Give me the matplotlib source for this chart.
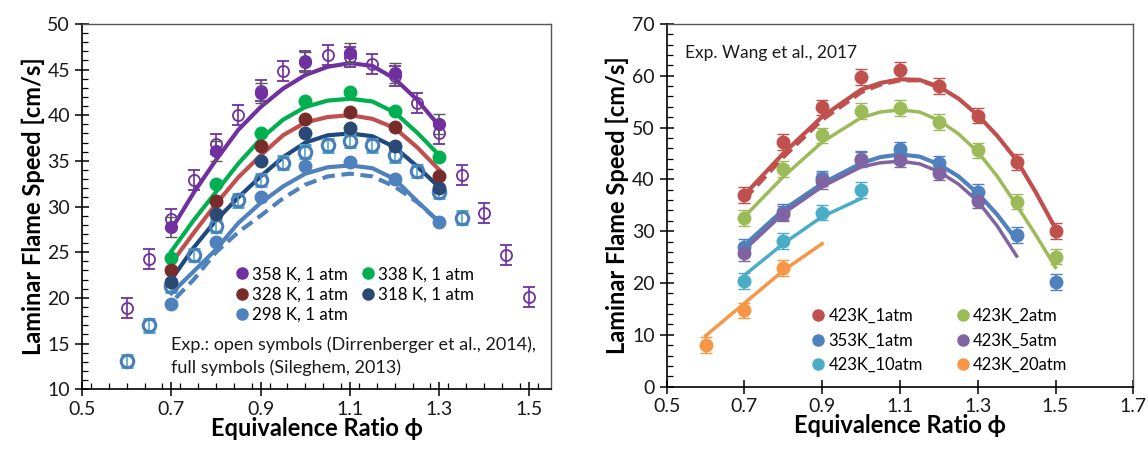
import numpy as np
import matplotlib
matplotlib.use("Agg")
import matplotlib.pyplot as plt
from matplotlib.lines import Line2D
from matplotlib.ticker import MultipleLocator

plt.rcParams['font.family'] = ['Lato', 'DejaVu Sans']

# ---------------- left panel data ----------------
# Dirrenberger et al. 2014 (open symbols)
phi_dir = [0.6, 0.65, 0.7, 0.75, 0.8, 0.85, 0.9, 0.95, 1.0, 1.05, 1.1,
           1.15, 1.2, 1.25, 1.3, 1.35, 1.4, 1.45, 1.5]
sl_dir_358 = [18.9, 24.3, 28.6, 32.9, 36.8, 40.0, 42.7, 44.8, 45.9, 46.6, 46.4,
              45.6, 44.3, 41.3, 38.0, 33.5, 29.3, 24.7, 20.1]
phi_dir298 = [0.6, 0.65, 0.7, 0.75, 0.8, 0.85, 0.9, 0.95, 1.0, 1.05, 1.1,
              1.15, 1.2, 1.25, 1.3, 1.35]
sl_dir_298 = [13.1, 17.0, 21.3, 24.7, 27.9, 30.7, 32.9, 34.8, 36.0, 36.7, 37.2,
              36.7, 35.6, 33.9, 31.6, 28.8]

# Sileghem 2013 (full symbols)
phi_sil = [0.7, 0.8, 0.9, 1.0, 1.1, 1.2, 1.3]
sl_sil = {
    '358 K, 1 atm': [27.8, 36.1, 42.4, 45.8, 46.8, 44.6, 39.0],
    '338 K, 1 atm': [24.4, 32.5, 38.0, 41.6, 42.5, 40.5, 35.4],
    '328 K, 1 atm': [23.0, 30.6, 36.6, 39.6, 40.3, 38.7, 33.3],
    '318 K, 1 atm': [21.7, 29.2, 35.0, 38.0, 38.6, 36.6, 32.0],
    '298 K, 1 atm': [19.3, 26.1, 31.1, 34.4, 34.9, 33.0, 28.3],
}

# model curves
phi_mod = [0.7, 0.75, 0.8, 0.85, 0.9, 0.95, 1.0, 1.05, 1.1, 1.15, 1.2, 1.25, 1.3]
mod_358 = [27.5, 31.5, 35.1, 38.4, 40.9, 42.9, 44.4, 45.3, 45.7, 45.4, 44.0, 41.7, 38.8]
mod_338 = [25.1, 28.5, 31.6, 34.7, 37.4, 39.5, 40.9, 41.6, 41.8, 41.5, 40.3, 38.1, 35.6]
mod_328 = [23.8, 27.1, 30.3, 33.2, 35.6, 37.8, 39.2, 39.8, 40.0, 39.6, 38.6, 36.5, 34.0]
mod_318 = [22.0, 25.5, 28.5, 31.0, 33.3, 35.4, 37.0, 37.8, 38.0, 37.7, 36.5, 34.4, 32.1]
mod_298 = [20.5, 22.9, 25.3, 28.2, 30.4, 32.2, 33.6, 34.3, 34.5, 34.2, 33.0, 30.6, 28.3]
phi_mod_d = [0.71, 0.75, 0.8, 0.85, 0.9, 0.95, 1.0, 1.05, 1.1, 1.15, 1.2, 1.25, 1.3]
mod_298_d = [20.0, 22.0, 25.0, 27.2, 29.0, 30.9, 32.4, 33.3, 33.6, 33.3, 32.2, 30.5, 28.3]

# ---------------- right panel data ----------------
phi_w = [0.7, 0.8, 0.9, 1.0, 1.1, 1.2, 1.3, 1.4, 1.5]
w_423_1 = [37.0, 47.2, 53.9, 59.7, 61.1, 58.0, 52.3, 43.3, 30.0]
w_423_2 = [32.5, 42.0, 48.5, 53.2, 53.8, 51.1, 45.6, 35.7, 25.1]
w_353_1 = [27.0, 33.7, 40.2, 44.0, 45.8, 43.1, 37.6, 29.3, 20.2]
phi_w5 = [0.7, 0.8, 0.9, 1.0, 1.1, 1.2, 1.3]
w_423_5 = [25.8, 33.4, 39.7, 43.8, 43.8, 41.3, 35.9]
phi_w10 = [0.7, 0.8, 0.9, 1.0]
w_423_10 = [20.4, 28.1, 33.6, 37.9]
phi_w20 = [0.6, 0.7, 0.8]
w_423_20 = [8.0, 14.7, 22.9]

phi_m1 = [0.7, 0.8, 0.9, 1.0, 1.05, 1.1, 1.15, 1.2, 1.25, 1.3, 1.35, 1.4, 1.45, 1.5]
m_423_1 = [37.0, 45.0, 52.1, 57.3, 58.6, 59.3, 59.2, 57.9, 55.6, 52.4, 48.4, 43.7, 37.4, 30.5]
phi_m1d = [0.7, 0.8, 0.9, 1.0, 1.05, 1.1, 1.15, 1.2]
m_423_1d = [36.2, 44.3, 51.5, 56.8, 58.3, 59.1, 59.1, 57.8]
phi_m2 = [0.7, 0.8, 0.9, 1.0, 1.05, 1.1, 1.15, 1.2, 1.25, 1.3, 1.35, 1.4, 1.45, 1.5]
m_423_2 = [32.8, 40.5, 47.2, 51.9, 53.0, 53.4, 53.0, 51.4, 48.8, 45.3, 40.6, 35.0, 29.2, 23.0]
phi_m3 = [0.7, 0.8, 0.9, 1.0, 1.05, 1.1, 1.15, 1.2, 1.25, 1.3, 1.35, 1.4]
m_353_1 = [27.3, 34.1, 39.2, 43.1, 44.3, 44.8, 44.4, 42.9, 40.6, 37.3, 33.2, 28.3]
m_423_5 = [26.4, 33.4, 38.6, 42.4, 43.2, 43.5, 43.0, 41.5, 39.1, 35.8, 31.0, 25.2]
phi_m10 = [0.7, 0.8, 0.9, 1.0]
m_423_10 = [21.5, 27.6, 32.8, 36.3]
phi_m20 = [0.6, 0.7, 0.8, 0.9]
m_423_20 = [9.8, 16.1, 22.4, 27.6]

# ---------------- styles ----------------
left_cols = {
    '358 K, 1 atm': '#7030A0',
    '338 K, 1 atm': '#00B050',
    '328 K, 1 atm': '#772C2A',
    '318 K, 1 atm': '#2A4A75',
    '298 K, 1 atm': '#4F81BD',
}
right_cols = {
    '423K_1atm': '#C0504D',
    '423K_2atm': '#9BBB59',
    '353K_1atm': '#4F81BD',
    '423K_5atm': '#8064A2',
    '423K_10atm': '#4BACC6',
    '423K_20atm': '#F79646',
}
txt_col = '#1a1a1a'
tick_fs = 14
lab_fs = 17


def style_axes(ax):
    ax.tick_params(which='major', direction='inout', length=10, width=1.1,
                   labelsize=tick_fs, labelcolor=txt_col, top=False, right=False)
    ax.tick_params(which='minor', direction='in', length=4, width=0.9,
                   top=False, right=False)
    ax.spines['left'].set_linewidth(1.2)
    ax.spines['bottom'].set_linewidth(1.2)
    for s in ['top', 'right']:
        ax.spines[s].set_color('#555555')
        ax.spines[s].set_linewidth(1.0)
    ax.set_xlabel('Equivalence Ratio ϕ', fontsize=lab_fs, fontweight='bold', labelpad=-1)
    ax.set_ylabel('Laminar Flame Speed [cm/s]', fontsize=lab_fs, fontweight='bold', labelpad=2)


fig = plt.figure(figsize=(11.48, 4.5), dpi=100)
ax1 = fig.add_axes([0.0714, 0.135, 0.4086, 0.812])
ax2 = fig.add_axes([0.5807, 0.1407, 0.4065, 0.8063])

# ---- left ----
ax1.plot(phi_mod, mod_358, color='#7030A0', lw=3, zorder=2)
ax1.plot(phi_mod, mod_338, color='#00B050', lw=3, zorder=2)
ax1.plot(phi_mod, mod_328, color='#C0504D', lw=3, zorder=2)
ax1.plot(phi_mod, mod_318, color='#1F497D', lw=3, zorder=2)
ax1.plot(phi_mod, mod_298, color='#4F81BD', lw=3, zorder=2)
ax1.plot(phi_mod_d, mod_298_d, color='#4F81BD', lw=3, ls=(0, (3, 1.6)), zorder=2)

ax1.errorbar(phi_dir, sl_dir_358, yerr=1.1, fmt='o', ms=8, mfc='none',
             mec='#7030A0', mew=1.3, ecolor='#7030A0', elinewidth=1.2,
             capsize=4, zorder=3)
ax1.errorbar(phi_dir298, sl_dir_298, yerr=0.7, fmt='o', ms=9, mfc='none',
             mec='#4A7EBB', mew=2.2, ecolor='#4BACC6', elinewidth=1.2,
             capsize=4, zorder=3)

handles1 = []
for lab, vals in sl_sil.items():
    mcol = left_cols[lab]
    if lab == '358 K, 1 atm':
        ax1.errorbar(phi_sil, vals, yerr=1.1, fmt='o', ms=8.5, color=mcol,
                     ecolor='#595959', elinewidth=1.2, capsize=4, zorder=4)
    else:
        ax1.plot(phi_sil, vals, 'o', ms=9, color=mcol, zorder=4)
    handles1.append(Line2D([], [], ls='none', marker='o', ms=8, color=mcol, label=lab))

ax1.set_xlim(0.5, 1.55)
ax1.set_ylim(10, 50)
ax1.xaxis.set_minor_locator(MultipleLocator(0.04))
ax1.yaxis.set_major_locator(MultipleLocator(5))
ax1.yaxis.set_minor_locator(MultipleLocator(1))
ax1.set_xticks([0.5, 0.7, 0.9, 1.1, 1.3, 1.5])
ax1.set_xticklabels(['0.5', '0.7', '0.9', '1.1', '1.3', '1.5'])
style_axes(ax1)

order = [handles1[0], handles1[2], handles1[4], handles1[1], handles1[3]]
ax1.legend(handles=order, ncol=2, loc='upper left', bbox_to_anchor=(0.315, 0.355),
           frameon=False, fontsize=12.2, handlelength=0.6, handletextpad=0.3,
           columnspacing=0.9, labelspacing=0.25, borderaxespad=0)
ax1.text(0.19, 0.123, 'Exp.: open symbols (Dirrenberger et al., 2014),',
         transform=ax1.transAxes, fontsize=13, color=txt_col, va='center', ha='left')
ax1.text(0.19, 0.058, 'full symbols (Sileghem, 2013)',
         transform=ax1.transAxes, fontsize=13, color=txt_col, va='center', ha='left')

# ---- right ----
ax2.plot(phi_m1, m_423_1, color=right_cols['423K_1atm'], lw=3, zorder=2)
ax2.plot(phi_m1d, m_423_1d, color=right_cols['423K_1atm'], lw=3, ls=(0, (3, 1.5)), zorder=2)
ax2.plot(phi_m2, m_423_2, color=right_cols['423K_2atm'], lw=2.5, zorder=2)
ax2.plot(phi_m3, m_353_1, color=right_cols['353K_1atm'], lw=3, zorder=2)
ax2.plot(phi_m3, m_423_5, color=right_cols['423K_5atm'], lw=2.5, zorder=2)
ax2.plot(phi_m10, m_423_10, color=right_cols['423K_10atm'], lw=2.5, zorder=2)
ax2.plot(phi_m20, m_423_20, color=right_cols['423K_20atm'], lw=2.5, zorder=2)

exp_sets = [('423K_1atm', phi_w, w_423_1), ('423K_2atm', phi_w, w_423_2),
            ('353K_1atm', phi_w, w_353_1), ('423K_5atm', phi_w5, w_423_5),
            ('423K_10atm', phi_w10, w_423_10), ('423K_20atm', phi_w20, w_423_20)]
handles2 = {}
for lab, xs, ys in exp_sets:
    c = right_cols[lab]
    ax2.errorbar(xs, ys, yerr=1.5, fmt='o', ms=9, color=c, ecolor=c,
                 elinewidth=1.2, capsize=4, zorder=3)
    handles2[lab] = Line2D([], [], ls='none', marker='o', ms=8, color=c, label=lab)

ax2.set_xlim(0.5, 1.7)
ax2.set_ylim(0, 70)
ax2.set_xticks([0.5, 0.7, 0.9, 1.1, 1.3, 1.5, 1.7])
ax2.set_xticklabels(['0.5', '0.7', '0.9', '1.1', '1.3', '1.5', '1.7'])
ax2.yaxis.set_major_locator(MultipleLocator(10))
ax2.yaxis.set_minor_locator(MultipleLocator(2))
style_axes(ax2)

ord2 = ['423K_1atm', '353K_1atm', '423K_10atm', '423K_2atm', '423K_5atm', '423K_20atm']
ax2.legend(handles=[handles2[k] for k in ord2], ncol=2, loc='upper left',
           bbox_to_anchor=(0.3, 0.235), frameon=False, fontsize=12,
           handlelength=0.6, handletextpad=0.3, columnspacing=2.1,
           labelspacing=0.5, borderaxespad=0)
ax2.text(0.04, 0.92, 'Exp. Wang et al., 2017', transform=ax2.transAxes,
         fontsize=12.5, color=txt_col, va='center', ha='left')

fig.savefig('out.png', dpi=100)
